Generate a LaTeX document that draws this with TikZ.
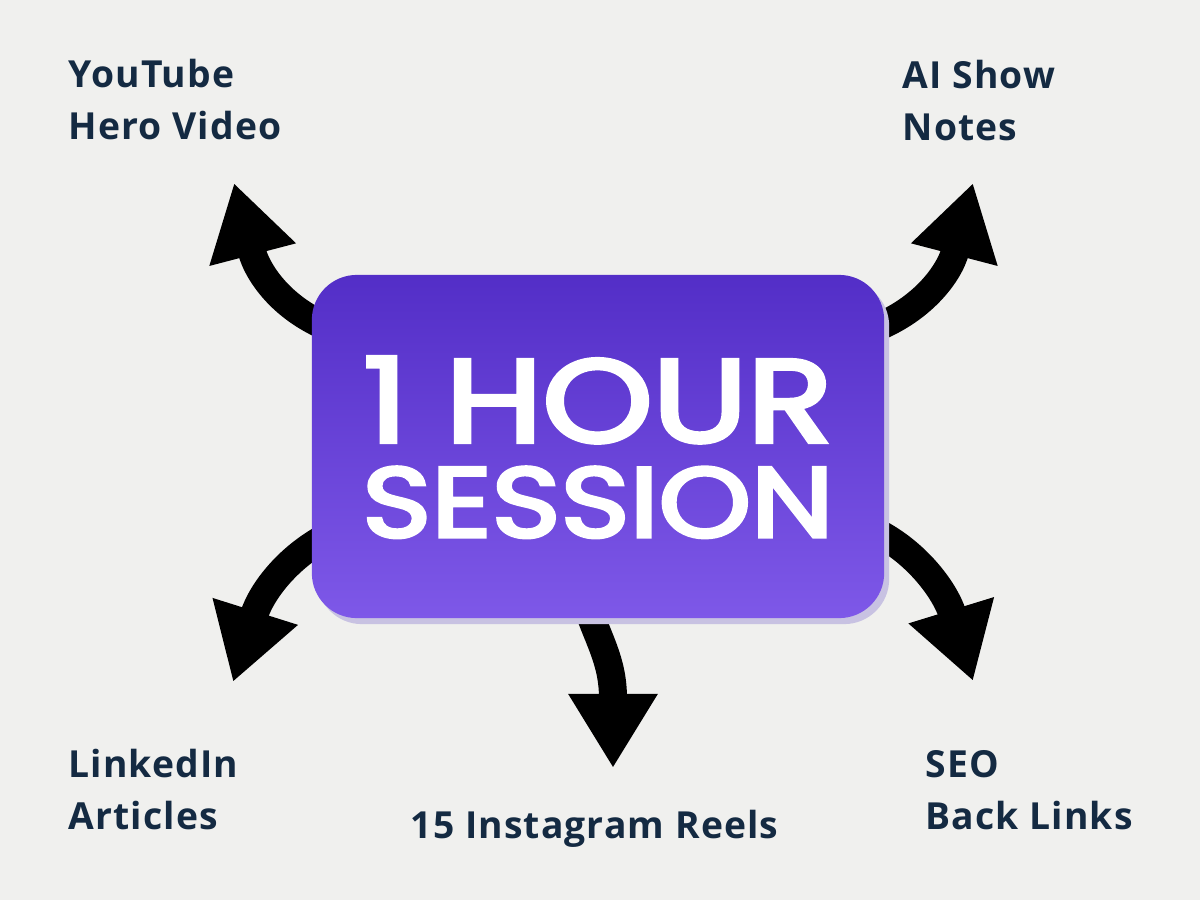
\documentclass[tikz,border=0pt]{standalone}
\usepackage{fontspec}
\setmainfont{Open Sans}[LetterSpace=3]
\newfontfamily\sessionfont{Poppins}[FakeBold=3.5]
\usetikzlibrary{arrows.meta,shadows}

\definecolor{paper}{HTML}{F0F0EE}
\definecolor{labelnavy}{HTML}{142A42}
\definecolor{boxtop}{HTML}{532EC7}
\definecolor{boxbottom}{HTML}{7E58E8}
\definecolor{shadowlav}{HTML}{C8C2E2}

\begin{document}
\begin{tikzpicture}[x=0.01cm,y=-0.01cm,
  outlabel/.style={anchor=base west,align=left,inner sep=0pt,text=labelnavy,
    font=\fontsize{10.6}{14.6}\selectfont\bfseries},
  bigarrow/.style={line width=0.28cm,-{Triangle[length=0.74cm,width=0.84cm]}},
  sessionbox/.style={rounded corners=0.45cm,minimum width=5.72cm,minimum height=3.43cm,
    inner sep=0pt,top color=boxtop,bottom color=boxbottom,draw=none,
    drop shadow={shadow xshift=0.05cm,shadow yshift=-0.06cm,fill=shadowlav,opacity=1}},
  boxtext/.style={anchor=base,align=center,inner sep=0pt,text=white,
    font=\sessionfont\fontsize{10pt}{0.95cm}\selectfont},
]

% page and paper
\useasboundingbox (0,0) rectangle (1200,900);
\fill[paper] (0,0) rectangle (1200,900);

% arrow ends
\coordinate (ytStart) at (335,330);
\coordinate (ytTip) at (234,183);
\coordinate (aiStart) at (870,330);
\coordinate (aiTip) at (973,183);
\coordinate (liStart) at (330,535);
\coordinate (liTip) at (233,682);
\coordinate (igStart) at (585,600);
\coordinate (igTip) at (613,768);
\coordinate (seoStart) at (872,530);
\coordinate (seoTip) at (973,681);

% arrows (behind the box)
\draw[bigarrow] (ytStart) .. controls (285,312) and (258,275) .. (ytTip);
\draw[bigarrow] (aiStart) .. controls (920,312) and (949,275) .. (aiTip);
\draw[bigarrow] (liStart) .. controls (290,555) and (262,590) .. (liTip);
\draw[bigarrow] (igStart) .. controls (598,640) and (613,660) .. (igTip);
\draw[bigarrow] (seoStart) .. controls (915,550) and (945,590) .. (seoTip);

% central box
\node[sessionbox] (session) at (598,446.5) {};
\node[boxtext] (sessiontxt) at (598,537)
  {\resizebox{4.69cm}{0.85cm}{1 HOUR}\\\resizebox{4.71cm}{0.70cm}{SESSION}};

% outputs (base = last line)
\node[outlabel] (youtube) at (68,139) {YouTube\\Hero Video};
\node[outlabel] (shownotes) at (902,140) {AI Show\\Notes};
\node[outlabel] (linkedin) at (68,829) {LinkedIn\\Articles};
\node[outlabel] (reels) at (410,838) {15 Instagram Reels};
\node[outlabel] (seo) at (925,829) {SEO\\Back Links};

\end{tikzpicture}
\end{document}
